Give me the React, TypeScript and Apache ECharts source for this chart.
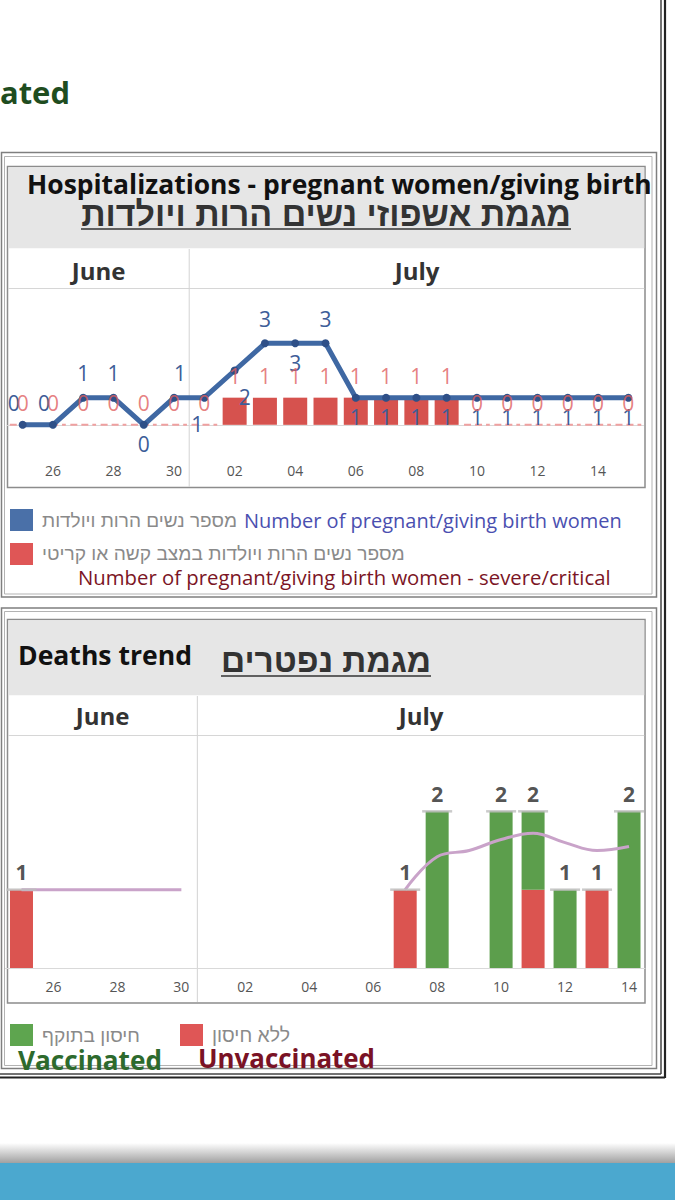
import React, { useEffect, useRef } from "react";
import * as echarts from "echarts";

// ---------------- Data ----------------
const hospitalDays = ["25","26","27","28","29","30","01","02","03","04","05","06","07","08","09","10","11","12","13","14","15"];
const pregnantWomen = [0,0,1,1,0,1,1,2,3,3,3,1,1,1,1,1,1,1,1,1,1];
const severeCritical = [0,0,0,0,0,0,0,1,1,1,1,1,1,1,1,0,0,0,0,0,0];

const deathDays = ["25","26","27","28","29","30","01","02","03","04","05","06","07","08","09","10","11","12","13","14"];
const unvaccinatedDeaths = [1,0,0,0,0,0,0,0,0,0,0,0,1,0,0,0,1,0,1,0];
const vaccinatedDeaths   = [0,0,0,0,0,0,0,0,0,0,0,0,0,2,0,2,1,1,0,2];
const deathsTrend = [1,1,1,1,1,1,null,null,null,null,null,null,1,1.42,1.5,1.64,1.72,1.6,1.5,1.55];

const monthLabels = ["June", "July"];

// label placement (style) for the blue line's value labels
const pregnantLabelPlace = ["tl","tl","t","t","b","tr","bl","br","t","b","t","b","b","b","b","b","b","b","b","b","b"];

// ---------------- Texts ----------------
const cutText = "ated";
const titleHospEn = "Hospitalizations - pregnant women/giving birth";
const titleHospHe = "מגמת אשפוזי נשים הרות ויולדות";
const legendPregnantHe = "מספר נשים הרות ויולדות";
const legendPregnantEn = "Number of pregnant/giving birth women";
const legendSevereHe = "מספר נשים הרות ויולדות במצב קשה או קריטי";
const legendSevereEn = "Number of pregnant/giving birth women - severe/critical";
const titleDeathsEn = "Deaths trend";
const titleDeathsHe = "מגמת נפטרים";
const legendVaxHe = "חיסון בתוקף";
const legendUnvaxHe = "ללא חיסון";
const legendVaxEn = "Vaccinated";
const legendUnvaxEn = "Unvaccinated";

const OS = '"Open Sans", "Noto Sans", sans-serif';
const HE = '"Liberation Sans", "DejaVu Sans", sans-serif';

const G1 = { left: 7.5, top: 289, width: 636, height: 163 };
const G2 = { left: 5.5, top: 733, width: 639.5, height: 235 };

const placeCfg: any = {
  t: { position: "top", distance: 10, offset: [0, 0] },
  tl: { position: "top", distance: 7, offset: [-9, 0] },
  tr: { position: "top", distance: 10, offset: [6, 0] },
  b: { position: "bottom", distance: 5, offset: [0, 0] },
  bl: { position: "bottom", distance: 5, offset: [-7, 7] },
  br: { position: "bottom", distance: 5, offset: [10, 7] },
};

function measure(text: string, weight: string, family: string): number {
  const c = document.createElement("canvas").getContext("2d");
  if (!c) return 0;
  c.font = `${weight} 100px ${family}`;
  return c.measureText(text).width;
}
function fitFont(text: string, weight: string, family: string, target: number): number {
  const w = measure(text, weight, family);
  return w > 0 ? (100 * target) / w : 20;
}

function buildGraphics() {
  const g: any[] = [];
  const rect = (x: number, y: number, w: number, h: number, fill: any, stroke?: string, lw = 1) =>
    g.push({ type: "rect", shape: { x, y, width: w, height: h }, style: { fill, stroke: stroke || null, lineWidth: lw }, silent: true });
  const line = (x1: number, y1: number, x2: number, y2: number, stroke: string, lw = 1) =>
    g.push({ type: "line", shape: { x1, y1, x2, y2 }, style: { stroke, lineWidth: lw }, silent: true });
  const text = (t: string, x: number, y: number, size: number, fill: string, weight = "normal", family = OS, align = "left") =>
    g.push({ type: "text", x, y, style: { text: t, fontSize: size, fontWeight: weight, fontFamily: family, fill, align, verticalAlign: "middle" }, silent: true });
  const fitText = (t: string, x: number, y: number, target: number, fill: string, weight = "normal", family = OS, align = "left") =>
    text(t, x, y, fitFont(t, weight, family, target), fill, weight, family, align);

  // cut-off word at the top
  fitText(cutText, 0, 92, 70, "#1f4d1f", "bold");

  // ---------- Panel 1 ----------
  rect(1.5, 152.5, 655, 444.5, "none", "#7f7f7f", 1.5);
  rect(4.5, 156.5, 647.5, 437.5, "none", "#b3b3b3", 1);
  rect(7.5, 166.5, 637.5, 321, "#ffffff", "#8c8c8c", 1.5);
  rect(8.3, 167.3, 636, 81, "#e6e6e6");
  line(8.3, 288.5, 644.3, 288.5, "#d6d6d6", 1);
  const div1 = G1.left + (6 * G1.width) / hospitalDays.length;
  line(div1, 249, div1, 487, "#d3d3d3", 1);
  text(monthLabels[0], (8 + div1) / 2, 270, 24, "#333333", "bold", OS, "center");
  text(monthLabels[1], (div1 + 645) / 2, 270, 24, "#333333", "bold", OS, "center");

  fitText(titleHospEn, 27, 184, 625, "#111111", "bold");
  const heSize1 = fitFont(titleHospHe, "bold", HE, 490);
  text(titleHospHe, 326, 214, heSize1, "#333333", "bold", HE, "center");
  line(326 - 245, 229, 326 + 245, 229, "#333333", 1.5);

  // legend 1
  rect(10, 509, 23, 22, "#4a70a8");
  fitText(legendPregnantHe, 42, 520, 195, "#8a8a8a", "normal", HE);
  fitText(legendPregnantEn, 244, 520, 378, "#4a4fb0");
  rect(10, 543, 23, 22, "#df5656");
  fitText(legendSevereHe, 42, 553, 363, "#8a8a8a", "normal", HE);
  fitText(legendSevereEn, 78, 577, 533, "#7b1525");

  // ---------- Panel 2 ----------
  rect(1.5, 608, 655, 460.5, "none", "#7f7f7f", 1.5);
  rect(4.5, 611.5, 647.5, 454, "none", "#b3b3b3", 1);
  rect(7.5, 619.5, 637.5, 383.5, "#ffffff", "#8c8c8c", 1.5);
  rect(8.3, 620.3, 636, 75, "#e6e6e6");
  line(8.3, 735.5, 644.3, 735.5, "#d6d6d6", 1);
  const div2 = G2.left + (6 * G2.width) / deathDays.length;
  line(div2, 696, div2, 1002, "#d3d3d3", 1);
  text(monthLabels[0], (8 + div2) / 2, 715, 24, "#333333", "bold", OS, "center");
  text(monthLabels[1], (div2 + 645) / 2, 715, 24, "#333333", "bold", OS, "center");

  fitText(titleDeathsEn, 18, 655, 174, "#111111", "bold");
  const heSize2 = fitFont(titleDeathsHe, "bold", HE, 210);
  text(titleDeathsHe, 326, 660, heSize2, "#333333", "bold", HE, "center");
  line(326 - 105, 676, 326 + 105, 676, "#333333", 1.5);

  // legend 2
  rect(10, 1024, 23, 22, "#5ea54f");
  fitText(legendVaxHe, 42, 1035, 98, "#8a8a8a", "normal", HE);
  rect(180, 1024, 23, 22, "#df5656");
  fitText(legendUnvaxHe, 212, 1035, 78, "#8a8a8a", "normal", HE);
  fitText(legendVaxEn, 18, 1060, 144, "#2d6a2d", "bold");
  fitText(legendUnvaxEn, 198, 1058, 177, "#7a1225", "bold");

  // ---------- Outer dark frame ----------
  line(661, 0, 661, 1074, "#444444", 1.5);
  line(665, 0, 665, 1078, "#222222", 2.2);
  line(0, 1074, 661, 1074, "#444444", 1.5);
  line(0, 1077.5, 665, 1077.5, "#222222", 2.2);

  // ---------- Bottom band ----------
  rect(0, 1143, 675, 21, new echarts.graphic.LinearGradient(0, 0, 0, 1, [
    { offset: 0, color: "rgba(255,255,255,1)" },
    { offset: 1, color: "#9c9c9c" },
  ]));
  rect(0, 1163, 675, 37, "#4ba8cf");

  return g;
}

export default function App() {
  const ref = useRef<HTMLDivElement>(null);

  useEffect(() => {
    if (!ref.current) return;
    const chart = echarts.init(ref.current, null, { renderer: "svg", width: 675, height: 1200 });

    const pregnantData = pregnantWomen.map((v, i) => {
      const c = placeCfg[pregnantLabelPlace[i]];
      return { value: v, label: { position: c.position, distance: c.distance, offset: c.offset } };
    });
    const deathTotals = unvaccinatedDeaths.map((v, i) => {
      const t = v + vaccinatedDeaths[i];
      return t > 0 ? t : "-";
    });

    const xCommon = {
      type: "category",
      boundaryGap: true,
      axisLine: { lineStyle: { color: "#d9d9d9", width: 1 } },
      axisTick: { show: false },
      splitLine: { show: false },
    };

    chart.setOption({
      animation: false,
      backgroundColor: "#ffffff",
      graphic: buildGraphics(),
      grid: [
        { left: G1.left, top: G1.top, width: G1.width, height: G1.height, containLabel: false },
        { left: G2.left, top: G2.top, width: G2.width, height: G2.height, containLabel: false },
      ],
      xAxis: [
        {
          ...xCommon, gridIndex: 0, data: hospitalDays,
          axisLabel: { interval: (i: number) => i % 2 === 1, color: "#555555", fontSize: 14, fontFamily: OS, margin: 11 },
        },
        {
          ...xCommon, gridIndex: 1, data: deathDays,
          axisLabel: { interval: (i: number) => i % 2 === 1, color: "#555555", fontSize: 14, fontFamily: OS, margin: 11 },
        },
      ],
      yAxis: [
        { type: "value", gridIndex: 0, min: -1, max: 5, show: false },
        { type: "value", gridIndex: 1, min: 0, max: 3, show: false },
      ],
      series: [
        {
          name: "severe zero",
          type: "custom",
          xAxisIndex: 0, yAxisIndex: 0, z: 1,
          data: severeCritical.map((v, i) => [i, v]),
          renderItem: (params: any, api: any) => {
            if (api.value(1) !== 0) return null;
            const p = api.coord([api.value(0), 0]);
            const w = api.size([1, 0])[0] * 0.85;
            return {
              type: "line",
              shape: { x1: p[0] - w / 2, y1: p[1], x2: p[0] + w / 2, y2: p[1] },
              style: { stroke: "#efa0a0", lineWidth: 2, lineDash: [7, 4] },
            };
          },
        },
        {
          name: legendSevereEn,
          type: "bar",
          xAxisIndex: 0, yAxisIndex: 0, z: 2,
          data: severeCritical,
          barWidth: 24,
          itemStyle: { color: "#d6524e" },
        },
        {
          name: legendPregnantEn,
          type: "line",
          xAxisIndex: 0, yAxisIndex: 0, z: 3,
          data: pregnantData,
          lineStyle: { color: "#3f68a3", width: 5 },
          symbol: "circle",
          symbolSize: 8,
          itemStyle: { color: "#2f5088" },
          label: { show: true, color: "#3d5d98", fontSize: 21, fontFamily: OS },
        },
        {
          name: "severe labels",
          type: "scatter",
          xAxisIndex: 0, yAxisIndex: 0, z: 4,
          data: severeCritical,
          symbolSize: 0,
          itemStyle: { color: "transparent" },
          label: { show: true, position: "top", distance: 11, color: "#e06060", fontSize: 21, fontFamily: OS },
        },
        {
          name: legendUnvaxEn,
          type: "bar",
          xAxisIndex: 1, yAxisIndex: 1, z: 2,
          stack: "deaths",
          data: unvaccinatedDeaths,
          barWidth: 23,
          itemStyle: { color: "#db5450" },
        },
        {
          name: legendVaxEn,
          type: "bar",
          xAxisIndex: 1, yAxisIndex: 1, z: 2,
          stack: "deaths",
          data: vaccinatedDeaths,
          barWidth: 23,
          itemStyle: { color: "#5c9e4c" },
        },
        {
          name: "trend",
          type: "line",
          xAxisIndex: 1, yAxisIndex: 1, z: 3,
          data: deathsTrend,
          smooth: 0.4,
          connectNulls: false,
          symbol: "none",
          lineStyle: { color: "#c9a3c9", width: 3 },
        },
        {
          name: "totals",
          type: "scatter",
          xAxisIndex: 1, yAxisIndex: 1, z: 4,
          data: deathTotals,
          symbol: "rect",
          symbolSize: [30, 2.5],
          itemStyle: { color: "#bdbdbd" },
          label: { show: true, position: "top", distance: 6, color: "#262626", fontSize: 21, fontWeight: "bold", fontFamily: OS },
        },
      ],
    });

    return () => chart.dispose();
  }, []);

  return <div ref={ref} style={{ position: "fixed", left: 0, top: 0, width: 675, height: 1200 }} />;
}
